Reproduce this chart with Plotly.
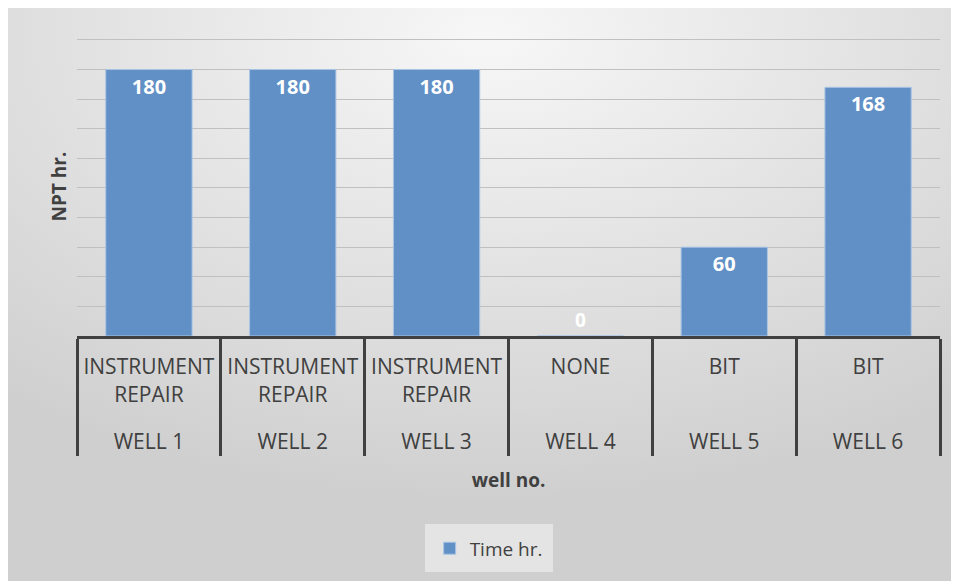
"""
NPT chart per well, rebuilt with Plotly.
"""

import base64

import plotly.graph_objects as go


# ---------------------------------------------------------
# Data
# ---------------------------------------------------------

wells = ["WELL 1", "WELL 2", "WELL 3", "WELL 4", "WELL 5", "WELL 6"]

causes = [
    "INSTRUMENT REPAIR",
    "INSTRUMENT REPAIR",
    "INSTRUMENT REPAIR",
    "NONE",
    "BIT",
    "BIT",
]

npt_hours = [180, 180, 180, 0, 60, 168]


FONT = "Open Sans, Noto Sans, sans-serif"
TEXT = "#404040"
BAR = "#6190c6"

# plot area in page pixels (page body adds 8px around the figure)
LEFT, RIGHT, TOP, BOTTOM = 69, 27, 29, 253
W, H = 959, 581


def background_image():
    """Soft radial grey wash behind the chart, like the office style."""

    svg = (
        "<svg xmlns='http://www.w3.org/2000/svg' width='951' height='573' "
        "preserveAspectRatio='none'>"
        "<defs><radialGradient id='g' cx='0.5' cy='0.05' r='0.8'>"
        "<stop offset='0' stop-color='#f7f7f7'/>"
        "<stop offset='1' stop-color='#cfcfcf'/>"
        "</radialGradient></defs>"
        "<rect width='951' height='573' fill='url(#g)'/></svg>"
    )

    encoded = base64.b64encode(svg.encode()).decode()

    return "data:image/svg+xml;base64," + encoded


def tick_label(cause):
    """Two-line cause label, padded to three lines so the well row sits lower."""

    lines = cause.split(" ")

    while len(lines) < 3:
        lines.append(" ")

    return "<br>".join(lines)


def npt_chart():

    fig = go.Figure()

    # outside only for the zero bar, so its label still shows
    positions = ["outside" if v == 0 else "inside" for v in npt_hours]

    fig.add_trace(

        go.Bar(
            x=[wells, [tick_label(c) for c in causes]],
            y=npt_hours,
            name="Time hr.",
            width=0.6,
            marker=dict(color=BAR, line=dict(color="#a9c4e4", width=1)),
            texttemplate="<b>%{y}</b>",
            textposition=positions,
            insidetextanchor="end",
            textfont=dict(color="white", size=20, family=FONT),
            outsidetextfont=dict(color="white", size=19, family=FONT),
            cliponaxis=False,
        )

    )

    pw = W - LEFT - RIGHT
    ph = H - TOP - BOTTOM

    fig.update_layout(

        width=W,
        height=H,
        margin=dict(l=LEFT, r=RIGHT, t=TOP, b=BOTTOM),

        paper_bgcolor="white",
        plot_bgcolor="rgba(0,0,0,0)",

        font=dict(family=FONT, color=TEXT, size=17),

        showlegend=True,
        legend=dict(
            orientation="h",
            x=0.477,
            xanchor="center",
            y=-0.63,
            yanchor="top",
            bgcolor="#e4e4e4",
            bordercolor="#e4e4e4",
            borderwidth=5,
            font=dict(size=19, color=TEXT),
        ),

        images=[
            dict(
                source=background_image(),
                xref="paper",
                yref="paper",
                x=-LEFT / pw,
                y=(H - BOTTOM) / ph,
                sizex=W / pw,
                sizey=H / ph,
                xanchor="left",
                yanchor="top",
                sizing="stretch",
                layer="below",
            )
        ],
    )

    fig.update_xaxes(

        type="multicategory",
        showline=True,
        linecolor=TEXT,
        linewidth=3,
        showdividers=True,
        dividercolor=TEXT,
        dividerwidth=3,
        tickson="boundaries",
        ticks="",
        ticklabelstandoff=10,
        tickfont=dict(size=21, color=TEXT),
        title=dict(
            text="<b>well no.</b>",
            font=dict(size=19, color=TEXT),
            standoff=20,
        ),

    )

    fig.update_yaxes(

        range=[0, 202],
        tick0=0,
        dtick=20,
        showticklabels=False,
        showgrid=True,
        gridcolor="#c0c0c0",
        gridwidth=1,
        zeroline=False,
        title=dict(
            text="<b>NPT hr.</b>",
            font=dict(size=19, color=TEXT),
            standoff=4,
        ),

    )

    return fig


fig = npt_chart()

fig.write_html("out.html")
